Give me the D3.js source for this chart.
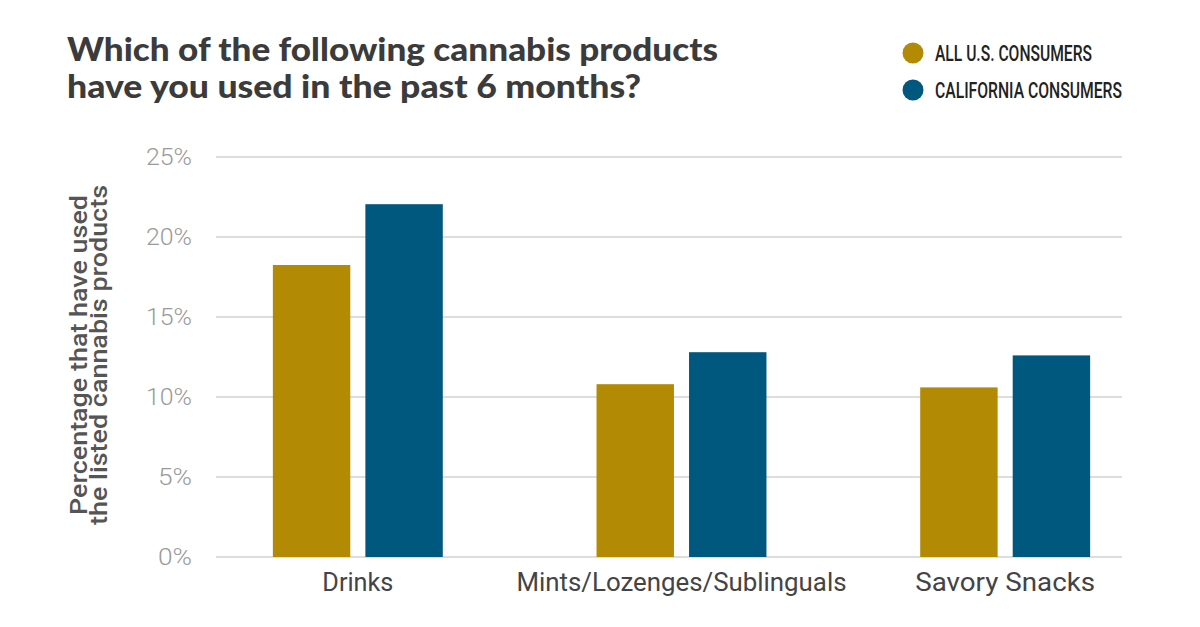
<!DOCTYPE html>
<html><head><meta charset="utf-8">
<script src="https://cdn.jsdelivr.net/npm/d3@7"></script>
<style>body{margin:0;background:#fff}</style>
</head><body>
<svg id="c" width="1200" height="627"></svg>
<script>
const categories = ["Drinks", "Mints/Lozenges/Sublinguals", "Savory Snacks"];
const seriesNames = ["ALL U.S. CONSUMERS", "CALIFORNIA CONSUMERS"];
const allUS = [18.25, 10.8, 10.6];
const california = [22.05, 12.8, 12.6];
const yTicks = [0, 5, 10, 15, 20, 25];
const colors = ["#B28A04", "#00587F"];

const svg = d3.select("#c");
const y = d3.scaleLinear().domain([0, 25]).range([557, 157]);
const x0 = d3.scaleBand().domain(categories).range([196, 1167]).paddingInner(0.475).paddingOuter(0.2375);
const x1 = d3.scaleBand().domain(seriesNames).range([0, x0.bandwidth()]).paddingInner(0.163);

// gridlines
svg.append("g").selectAll("line").data(yTicks).join("line")
  .attr("x1", 216).attr("x2", 1122)
  .attr("y1", d => y(d)).attr("y2", d => y(d))
  .attr("stroke", "#d2d2d2").attr("stroke-width", 1.5);

// y tick labels
svg.append("g").selectAll("text").data(yTicks).join("text")
  .attr("x", 192).attr("y", d => y(d) + 8)
  .attr("text-anchor", "end")
  .attr("font-family", "Roboto").attr("font-weight", 300)
  .attr("font-size", 24).attr("fill", "#9a9a9a")
  .attr("textLength", d => d < 10 ? 34 : 46).attr("lengthAdjust", "spacingAndGlyphs")
  .text(d => d + "%");

// bars
const vals = [allUS, california];
const g = svg.append("g");
categories.forEach((c, i) => {
  seriesNames.forEach((s, j) => {
    g.append("rect")
      .attr("x", x0(c) + x1(s))
      .attr("y", y(vals[j][i]))
      .attr("width", x1.bandwidth())
      .attr("height", y(0) - y(vals[j][i]))
      .attr("fill", colors[j]);
  });
});

// category labels
const catLen = [71, 330, 180];
svg.append("g").selectAll("text").data(categories).join("text")
  .attr("x", d => x0(d) + x0.bandwidth() / 2)
  .attr("y", 591)
  .attr("text-anchor", "middle")
  .attr("font-family", "Roboto").attr("font-size", 25).attr("fill", "#444")
  .attr("textLength", (d, i) => catLen[i]).attr("lengthAdjust", "spacingAndGlyphs")
  .text(d => d);

// y axis title
const yt = svg.append("text")
  .attr("transform", "translate(0,355) rotate(-90)")
  .attr("text-anchor", "middle")
  .attr("font-family", "Roboto").attr("font-weight", 500).attr("font-size", 24).attr("fill", "#555");
yt.append("tspan").attr("x", 0).attr("y", 87).attr("textLength", 320).attr("lengthAdjust", "spacingAndGlyphs").text("Percentage that have used");
yt.append("tspan").attr("x", 0).attr("y", 107).attr("textLength", 340).attr("lengthAdjust", "spacingAndGlyphs").text("the listed cannabis products");

// title
const t = svg.append("text")
  .attr("font-family", "Lato").attr("font-weight", 900)
  .attr("font-size", 33).attr("fill", "#3b3b3b");
t.append("tspan").attr("x", 67).attr("y", 61).attr("textLength", 651).attr("lengthAdjust", "spacingAndGlyphs").text("Which of the following cannabis products");
t.append("tspan").attr("x", 67).attr("y", 98).attr("textLength", 574).attr("lengthAdjust", "spacingAndGlyphs").text("have you used in the past 6 months?");

// legend
const lg = svg.append("g");
seriesNames.forEach((s, j) => {
  const cy = 53 + j * 37;
  lg.append("circle").attr("cx", 913).attr("cy", cy).attr("r", 10.5).attr("fill", colors[j]);
  lg.append("text").attr("x", 935).attr("y", cy + 8)
    .attr("font-family", "Roboto").attr("font-weight", 500)
    .attr("font-size", 22).attr("fill", "#222")
    .attr("textLength", j === 0 ? 157 : 187).attr("lengthAdjust", "spacingAndGlyphs")
    .text(s);
});
</script>
</body></html>
